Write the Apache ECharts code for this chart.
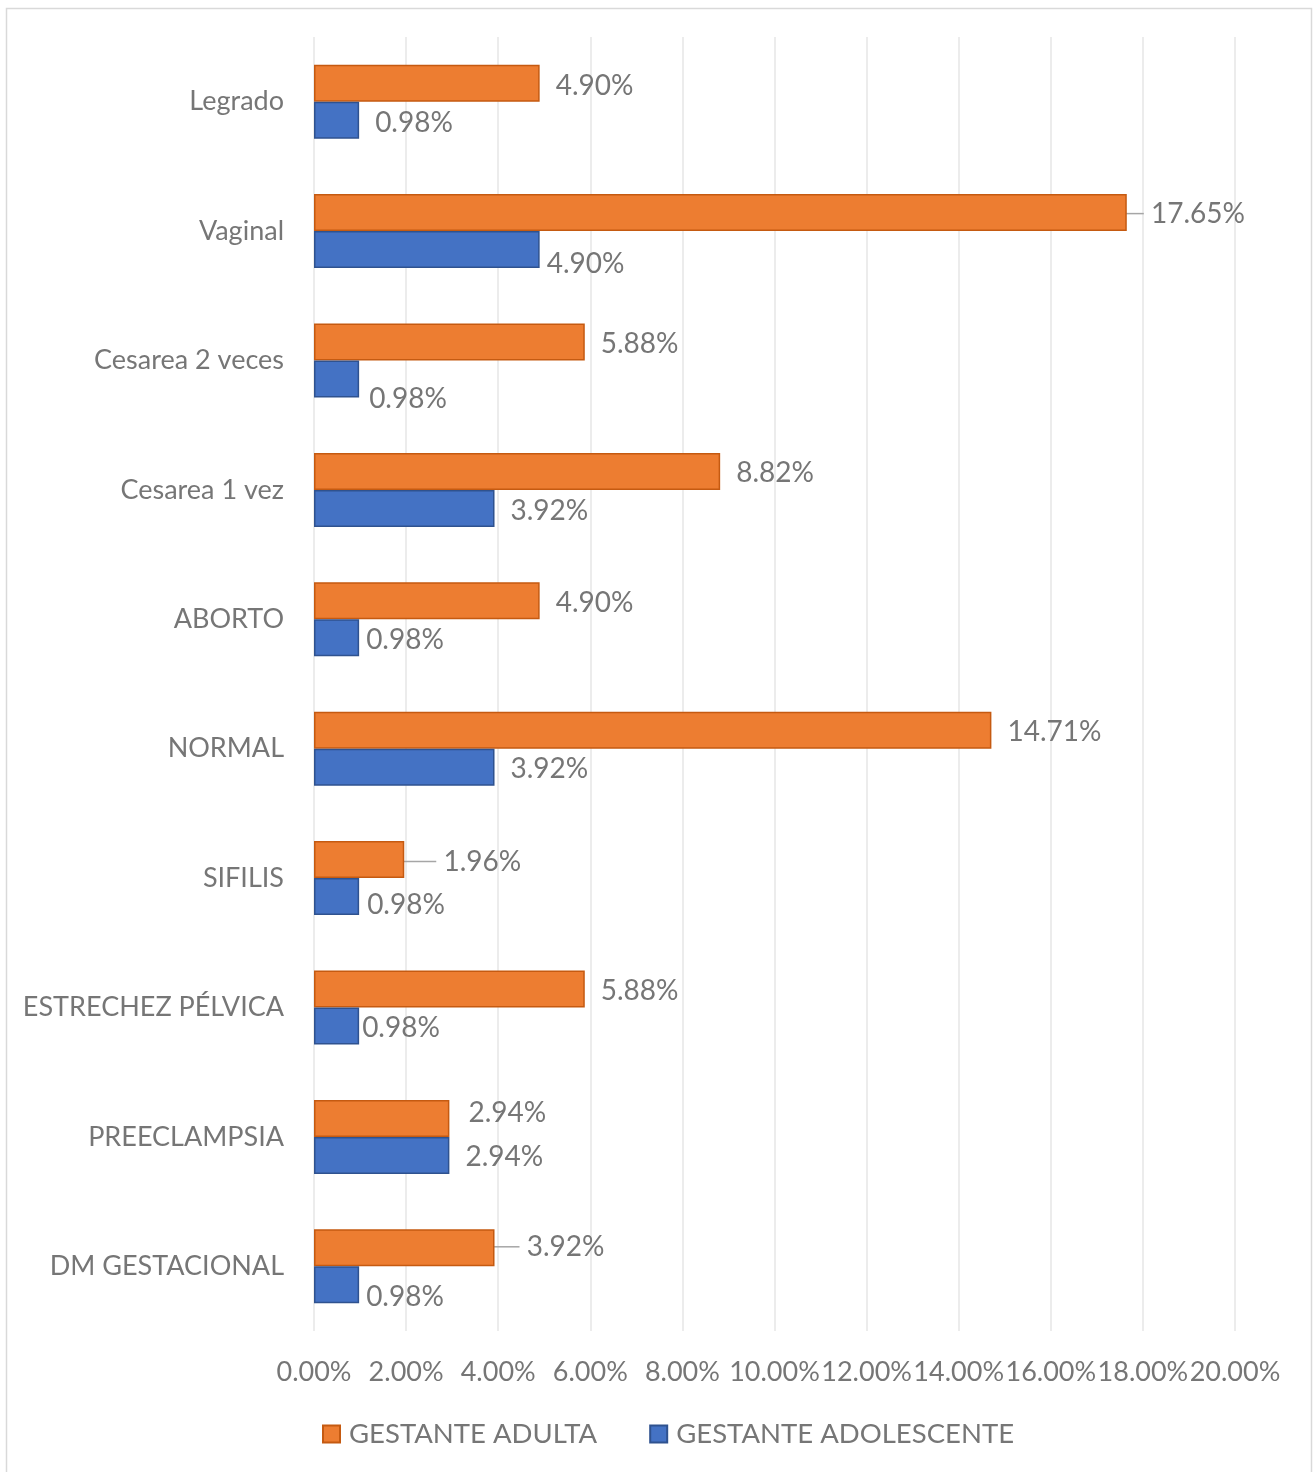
<!DOCTYPE html>
<html>
<head>
<meta charset="utf-8">
<script src="https://cdn.jsdelivr.net/npm/echarts@6/dist/echarts.min.js"></script>
<style>
  html, body { margin: 0; padding: 0; background: #ffffff; }
  #chart { width: 1316px; height: 1472px; }
</style>
</head>
<body>
<div id="chart"></div>
<script>
// Categories, listed top to bottom
const categories = [
  'Legrado', 'Vaginal', 'Cesarea 2 veces', 'Cesarea 1 vez', 'ABORTO',
  'NORMAL', 'SIFILIS', 'ESTRECHEZ PÉLVICA', 'PREECLAMPSIA', 'DM GESTACIONAL'
];
// Percent of pregnant women per group
const adulta = [4.90, 17.65, 5.88, 8.82, 4.90, 14.71, 1.96, 5.88, 2.94, 3.92];
const adolescente = [0.98, 4.90, 0.98, 3.92, 0.98, 3.92, 0.98, 0.98, 2.94, 0.98];
const seriesNames = ['GESTANTE ADULTA', 'GESTANTE ADOLESCENTE'];
const axisMax = 20;
const axisStep = 2;

// Data-label nudges [dx, dy] and leader-line flags (layout only)
const adultaLabelShift = [[0,3],[1,1],[0,2],[0,2],[0,2],[0,2],[16,2],[0,2],[3,-5],[9,-1]];
const adultaLeader = [false,true,false,false,false,false,true,false,false,true];
const adolLabelShift = [[0,3],[-9,14],[-6,20],[0,3],[-9,2],[0,2],[-8,8],[-13,2],[0,2],[-9,12]];

const FONT = 'Lato, "Liberation Sans", sans-serif';
const TXT = '#767676';

const fmt = v => v.toFixed(2) + '%';

const chart = echarts.init(document.getElementById('chart'), null, { renderer: 'canvas' });

chart.setOption({
  animation: false,
  textStyle: { fontFamily: FONT },
  graphic: [{
    type: 'rect',
    shape: { x: 6.5, y: 8.5, width: 1305, height: 1480 },
    style: { fill: 'none', stroke: '#d9d9d9', lineWidth: 1.5 },
    silent: true
  }],
  grid: { left: 314, right: 81, top: 37, bottom: 141, containLabel: false },
  legend: {
    bottom: 19,
    left: 322,
    padding: [5, 5, 5, 0],
    itemWidth: 17,
    itemHeight: 17,
    itemGap: 52,
    icon: 'rect',
    data: seriesNames,
    textStyle: { fontSize: 27.5, color: TXT, fontFamily: FONT, padding: [0, 0, 0, 4] }
  },
  xAxis: {
    type: 'value',
    min: 0,
    max: axisMax,
    interval: axisStep,
    axisLine: { show: false },
    axisTick: { show: false },
    splitLine: { show: true, lineStyle: { color: '#e6e6e6', width: 1.5 } },
    axisLabel: {
      formatter: v => v.toFixed(2) + '%',
      fontSize: 27, color: TXT, fontFamily: FONT, margin: 28,
      showMinLabel: true, showMaxLabel: true, hideOverlap: false
    }
  },
  yAxis: {
    type: 'category',
    inverse: true,
    data: categories,
    axisLine: { show: false },
    axisTick: { show: false },
    axisLabel: { fontSize: 27, color: TXT, fontFamily: FONT, margin: 30 }
  },
  series: [
    {
      name: seriesNames[0],
      type: 'bar',
      barWidth: 37,
      barGap: '0%',
      itemStyle: { color: '#ED7D31', borderColor: '#C55A11', borderWidth: 1.5 },
      data: adulta.map((v, i) => ({ value: v, labelLine: { show: adultaLeader[i] } })),
      label: {
        show: true, position: 'right', distance: 16,
        // a leading space keeps the leader line clear of the text
        formatter: p => (adultaLeader[p.dataIndex] ? ' ' : '') + fmt(p.value),
        fontSize: 28, color: TXT, fontFamily: FONT
      },
      labelLine: { lineStyle: { color: '#a6a6a6', width: 1.5 } },
      labelLayout: p => ({ dx: adultaLabelShift[p.dataIndex][0], dy: adultaLabelShift[p.dataIndex][1] })
    },
    {
      name: seriesNames[1],
      type: 'bar',
      barWidth: 37,
      barGap: '0%',
      itemStyle: { color: '#4472C4', borderColor: '#2F528F', borderWidth: 1.5 },
      data: adolescente,
      label: {
        show: true, position: 'right', distance: 16,
        formatter: p => fmt(p.value),
        fontSize: 28, color: TXT, fontFamily: FONT
      },
      labelLayout: p => ({ dx: adolLabelShift[p.dataIndex][0], dy: adolLabelShift[p.dataIndex][1] })
    }
  ]
});
</script>
</body>
</html>
